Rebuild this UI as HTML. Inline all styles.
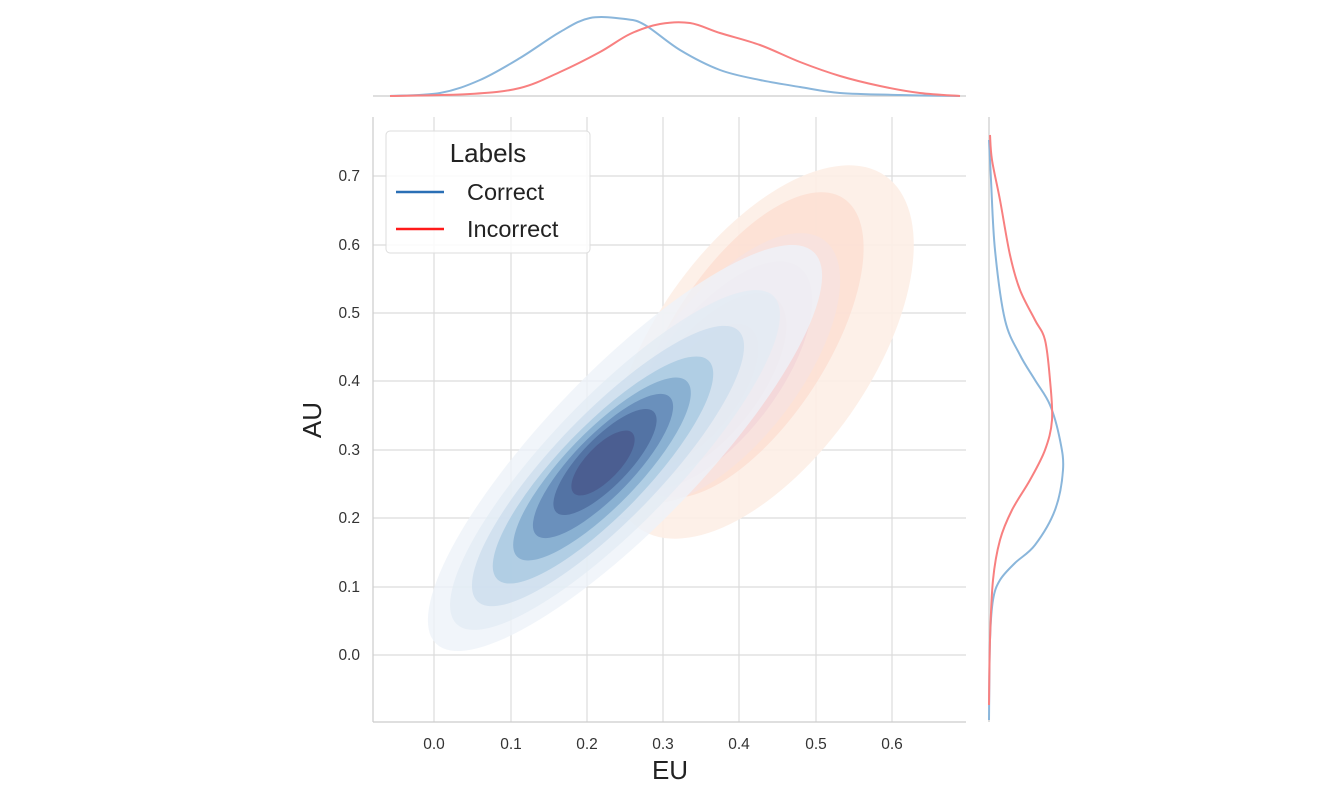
<!DOCTYPE html>
<html><head><meta charset="utf-8"><style>
body{margin:0;background:#fff}
svg{display:block;font-family:"Liberation Sans","DejaVu Sans",sans-serif}
</style></head><body>
<svg width="1341" height="799" viewBox="0 0 1341 799">
<rect width="1341" height="799" fill="#fff"/>
<g stroke="#dcdcdc" stroke-width="1.2">
<line x1="434" y1="117" x2="434" y2="722"/><line x1="511" y1="117" x2="511" y2="722"/><line x1="587" y1="117" x2="587" y2="722"/><line x1="663" y1="117" x2="663" y2="722"/><line x1="739" y1="117" x2="739" y2="722"/><line x1="816" y1="117" x2="816" y2="722"/><line x1="892" y1="117" x2="892" y2="722"/>
<line x1="373" y1="176" x2="966" y2="176"/><line x1="373" y1="245" x2="966" y2="245"/><line x1="373" y1="313" x2="966" y2="313"/><line x1="373" y1="381" x2="966" y2="381"/><line x1="373" y1="450" x2="966" y2="450"/><line x1="373" y1="518" x2="966" y2="518"/><line x1="373" y1="587" x2="966" y2="587"/><line x1="373" y1="655" x2="966" y2="655"/>
</g>
<!-- red kde -->
<g>
<ellipse cx="762" cy="352" rx="215" ry="108" transform="rotate(-55 762 352)" fill="#fdeee6" opacity="0.9"/>
<ellipse cx="748" cy="345" rx="175" ry="78" transform="rotate(-57 748 345)" fill="#fcdccf" opacity="0.7"/>
<ellipse cx="728" cy="368" rx="160" ry="72" transform="rotate(-53 728 368)" fill="#f6e2e0" opacity="0.8"/>
<ellipse cx="718" cy="375" rx="135" ry="60" transform="rotate(-53 718 375)" fill="#f2d6d8" opacity="0.8"/>
<ellipse cx="708" cy="385" rx="110" ry="50" transform="rotate(-52 708 385)" fill="#efc9cd" opacity="0.8"/>
<ellipse cx="698" cy="395" rx="85" ry="38" transform="rotate(-52 698 395)" fill="#e8b8c0" opacity="0.7"/>
<ellipse cx="688" cy="405" rx="58" ry="27" transform="rotate(-52 688 405)" fill="#d9a3b0" opacity="0.7"/>
</g>
<!-- blue kde -->
<g>
<ellipse cx="625" cy="448" rx="272" ry="78" transform="rotate(-46 625 448)" fill="#eef3f9" opacity="0.8"/>
<ellipse cx="615" cy="460" rx="228" ry="64" transform="rotate(-46 615 460)" fill="#e1ebf4" opacity="0.7"/>
<ellipse cx="608" cy="466" rx="188" ry="53" transform="rotate(-46 608 466)" fill="#c9dcec" opacity="0.7"/>
<ellipse cx="603" cy="470" rx="152" ry="44" transform="rotate(-46 603 470)" fill="#a3c6e0" opacity="0.7"/>
<ellipse cx="602" cy="469" rx="122" ry="37" transform="rotate(-46 602 469)" fill="#7ea7cc" opacity="0.75"/>
<ellipse cx="603" cy="466" rx="96" ry="30" transform="rotate(-46 603 466)" fill="#5f86b4" opacity="0.75"/>
<ellipse cx="605" cy="462" rx="70" ry="24" transform="rotate(-46 605 462)" fill="#4d6b9e" opacity="0.8"/>
<ellipse cx="603" cy="463" rx="42" ry="17" transform="rotate(-46 603 463)" fill="#4a5a8e" opacity="0.85"/>
</g>
<g stroke="#cccccc" stroke-width="1.2" fill="none">
<line x1="373" y1="117" x2="373" y2="722"/><line x1="373" y1="722" x2="966" y2="722"/>
<line x1="373" y1="96" x2="966" y2="96"/>
<line x1="989" y1="117" x2="989" y2="722"/>
</g>
<g font-size="15.5" fill="#333" text-anchor="middle">
<text x="434" y="749">0.0</text><text x="511" y="749">0.1</text><text x="587" y="749">0.2</text><text x="663" y="749">0.3</text><text x="739" y="749">0.4</text><text x="816" y="749">0.5</text><text x="892" y="749">0.6</text>
</g>
<g font-size="15.5" fill="#333" text-anchor="end">
<text x="360" y="181">0.7</text><text x="360" y="250">0.6</text><text x="360" y="318">0.5</text><text x="360" y="386">0.4</text><text x="360" y="455">0.3</text><text x="360" y="523">0.2</text><text x="360" y="592">0.1</text><text x="360" y="660">0.0</text>
</g>
<text x="670" y="779" font-size="26" fill="#222" text-anchor="middle">EU</text>
<text x="0" y="0" font-size="26" fill="#222" text-anchor="middle" transform="translate(321 420) rotate(-90)">AU</text>
<path id="tb" fill="none" stroke="#8ab6db" stroke-width="2"/>
<path id="tr" fill="none" stroke="#f88080" stroke-width="2"/>
<path id="rb" fill="none" stroke="#8ab6db" stroke-width="2"/>
<path id="rr" fill="none" stroke="#f88080" stroke-width="2"/>
<rect x="386" y="131" width="204" height="122" rx="4" fill="#fff" fill-opacity="0.85" stroke="#ddd"/>
<text x="488" y="162" font-size="26" fill="#222" text-anchor="middle">Labels</text>
<line x1="396" y1="192" x2="444" y2="192" stroke="#2a6fb5" stroke-width="2.5"/>
<line x1="396" y1="229" x2="444" y2="229" stroke="#ff1a1a" stroke-width="2.5"/>
<text x="467" y="200" font-size="23.5" fill="#222">Correct</text>
<text x="467" y="237" font-size="23.5" fill="#222">Incorrect</text>
</svg>
<script>
function cr(p){let d="M"+p[0][0]+","+p[0][1];for(let i=0;i<p.length-1;i++){const p0=p[i-1]||p[i],p1=p[i],p2=p[i+1],p3=p[i+2]||p2;
d+=" C"+(p1[0]+(p2[0]-p0[0])/6)+","+(p1[1]+(p2[1]-p0[1])/6)+" "+(p2[0]-(p3[0]-p1[0])/6)+","+(p2[1]-(p3[1]-p1[1])/6)+" "+p2[0]+","+p2[1];}return d;}
const D={
tb:[[390,96],[440,93],[480,80],[520,58],[560,32],[590,18],[625,19],[645,25],[680,50],[720,70],[760,80],[800,87],[840,93],[900,95],[960,96]],
tr:[[390,96],[470,94],[520,88],[560,72],[600,52],[630,34],[660,24],[690,23],[720,33],[760,45],[800,62],[840,76],[880,86],[920,93],[960,96]],
rb:[[989,720],[990,640],[993,600],[1000,580],[1015,563],[1035,545],[1055,510],[1063,470],[1060,440],[1050,405],[1035,380],[1020,355],[1005,320],[995,250],[991,180],[989,140]],
rr:[[989,705],[990,640],[993,580],[1000,540],[1012,510],[1030,480],[1045,450],[1052,420],[1050,380],[1045,340],[1035,320],[1020,290],[1010,255],[1000,200],[992,160],[990,135]]};
for(const k in D)document.getElementById(k).setAttribute("d",cr(D[k]));
</script>
</body></html>
